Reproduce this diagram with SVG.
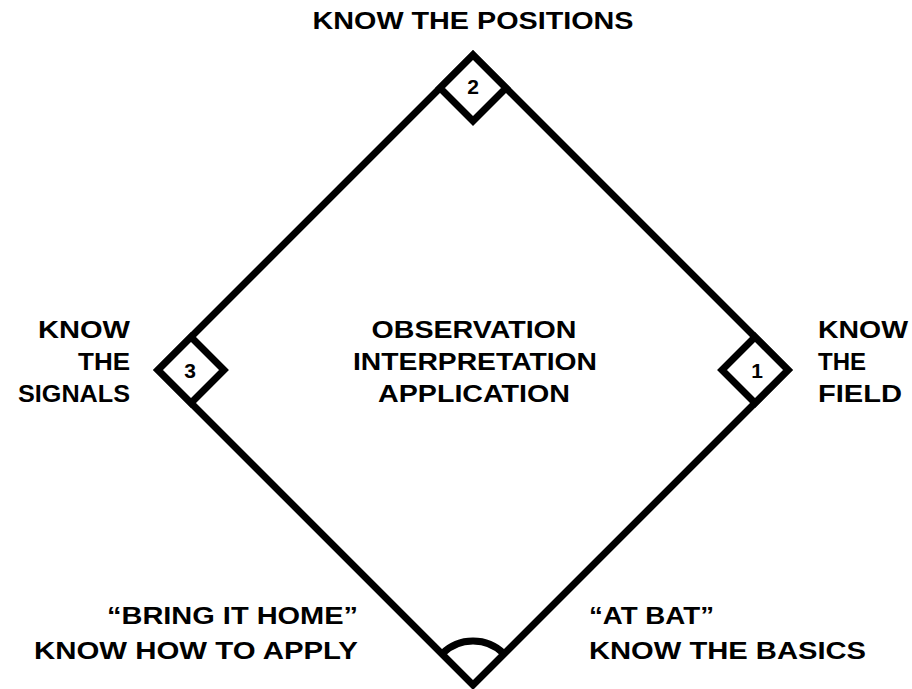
<svg xmlns="http://www.w3.org/2000/svg" width="912" height="689" viewBox="0 0 912 689">
<style>
.ln{fill:none;stroke:#000;stroke-width:7;stroke-linejoin:miter;stroke-miterlimit:10}
.base{fill:#fff;stroke:#000;stroke-width:7;stroke-linejoin:miter;stroke-miterlimit:10}
.t{font-family:"Liberation Sans",Arial,sans-serif;font-weight:bold;font-size:24px;fill:#000}
.n{font-family:"Liberation Sans",Arial,sans-serif;font-weight:bold;font-size:21px;fill:#000;text-anchor:middle}
.m{text-anchor:middle}
.e{text-anchor:end}
</style>
<rect width="912" height="689" fill="#fff"/>
<g id="connectors">
<path class="ln" d="M473,55 L788,370 L473,685 L158,370 Z"/>
</g>
<g id="home-plate">
<path class="ln" d="M441.9,653.9 A44,44 0 0 1 504.1,653.9" stroke-linejoin="round"/>
</g>
<g id="base-1">
<path class="base" d="M788,370 L755,337 L722,370 L755,403 Z"/>
<text class="n" x="757" y="378">1</text>
</g>
<g id="base-2">
<path class="base" d="M473,55 L506,88 L473,121 L440,88 Z"/>
<text class="n" x="473" y="94">2</text>
</g>
<g id="base-3">
<path class="base" d="M158,370 L191,337 L224,370 L191,403 Z"/>
<text class="n" x="190" y="378">3</text>
</g>
<g id="label-positions">
<text class="t m" x="473" y="29" textLength="321" lengthAdjust="spacingAndGlyphs">KNOW THE POSITIONS</text>
</g>
<g id="label-center">
<text class="t m" x="474" y="338" textLength="205" lengthAdjust="spacingAndGlyphs">OBSERVATION</text>
<text class="t m" x="475" y="370" textLength="244" lengthAdjust="spacingAndGlyphs">INTERPRETATION</text>
<text class="t m" x="474" y="402" textLength="192" lengthAdjust="spacingAndGlyphs">APPLICATION</text>
</g>
<g id="label-signals">
<text class="t e" x="130" y="338" textLength="92" lengthAdjust="spacingAndGlyphs">KNOW</text>
<text class="t e" x="130" y="370" textLength="52" lengthAdjust="spacingAndGlyphs">THE</text>
<text class="t e" x="130" y="402" textLength="112" lengthAdjust="spacingAndGlyphs">SIGNALS</text>
</g>
<g id="label-field">
<text class="t" x="818" y="338" textLength="90" lengthAdjust="spacingAndGlyphs">KNOW</text>
<text class="t" x="818" y="370" textLength="48" lengthAdjust="spacingAndGlyphs">THE</text>
<text class="t" x="818" y="402" textLength="84" lengthAdjust="spacingAndGlyphs">FIELD</text>
</g>
<g id="label-home">
<text class="t e" x="358" y="624" textLength="251" lengthAdjust="spacingAndGlyphs">“BRING IT HOME”</text>
<text class="t e" x="358" y="659" textLength="324" lengthAdjust="spacingAndGlyphs">KNOW HOW TO APPLY</text>
</g>
<g id="label-at-bat">
<text class="t" x="589" y="624" textLength="125" lengthAdjust="spacingAndGlyphs">“AT BAT”</text>
<text class="t" x="589" y="659" textLength="277" lengthAdjust="spacingAndGlyphs">KNOW THE BASICS</text>
</g>
</svg>
